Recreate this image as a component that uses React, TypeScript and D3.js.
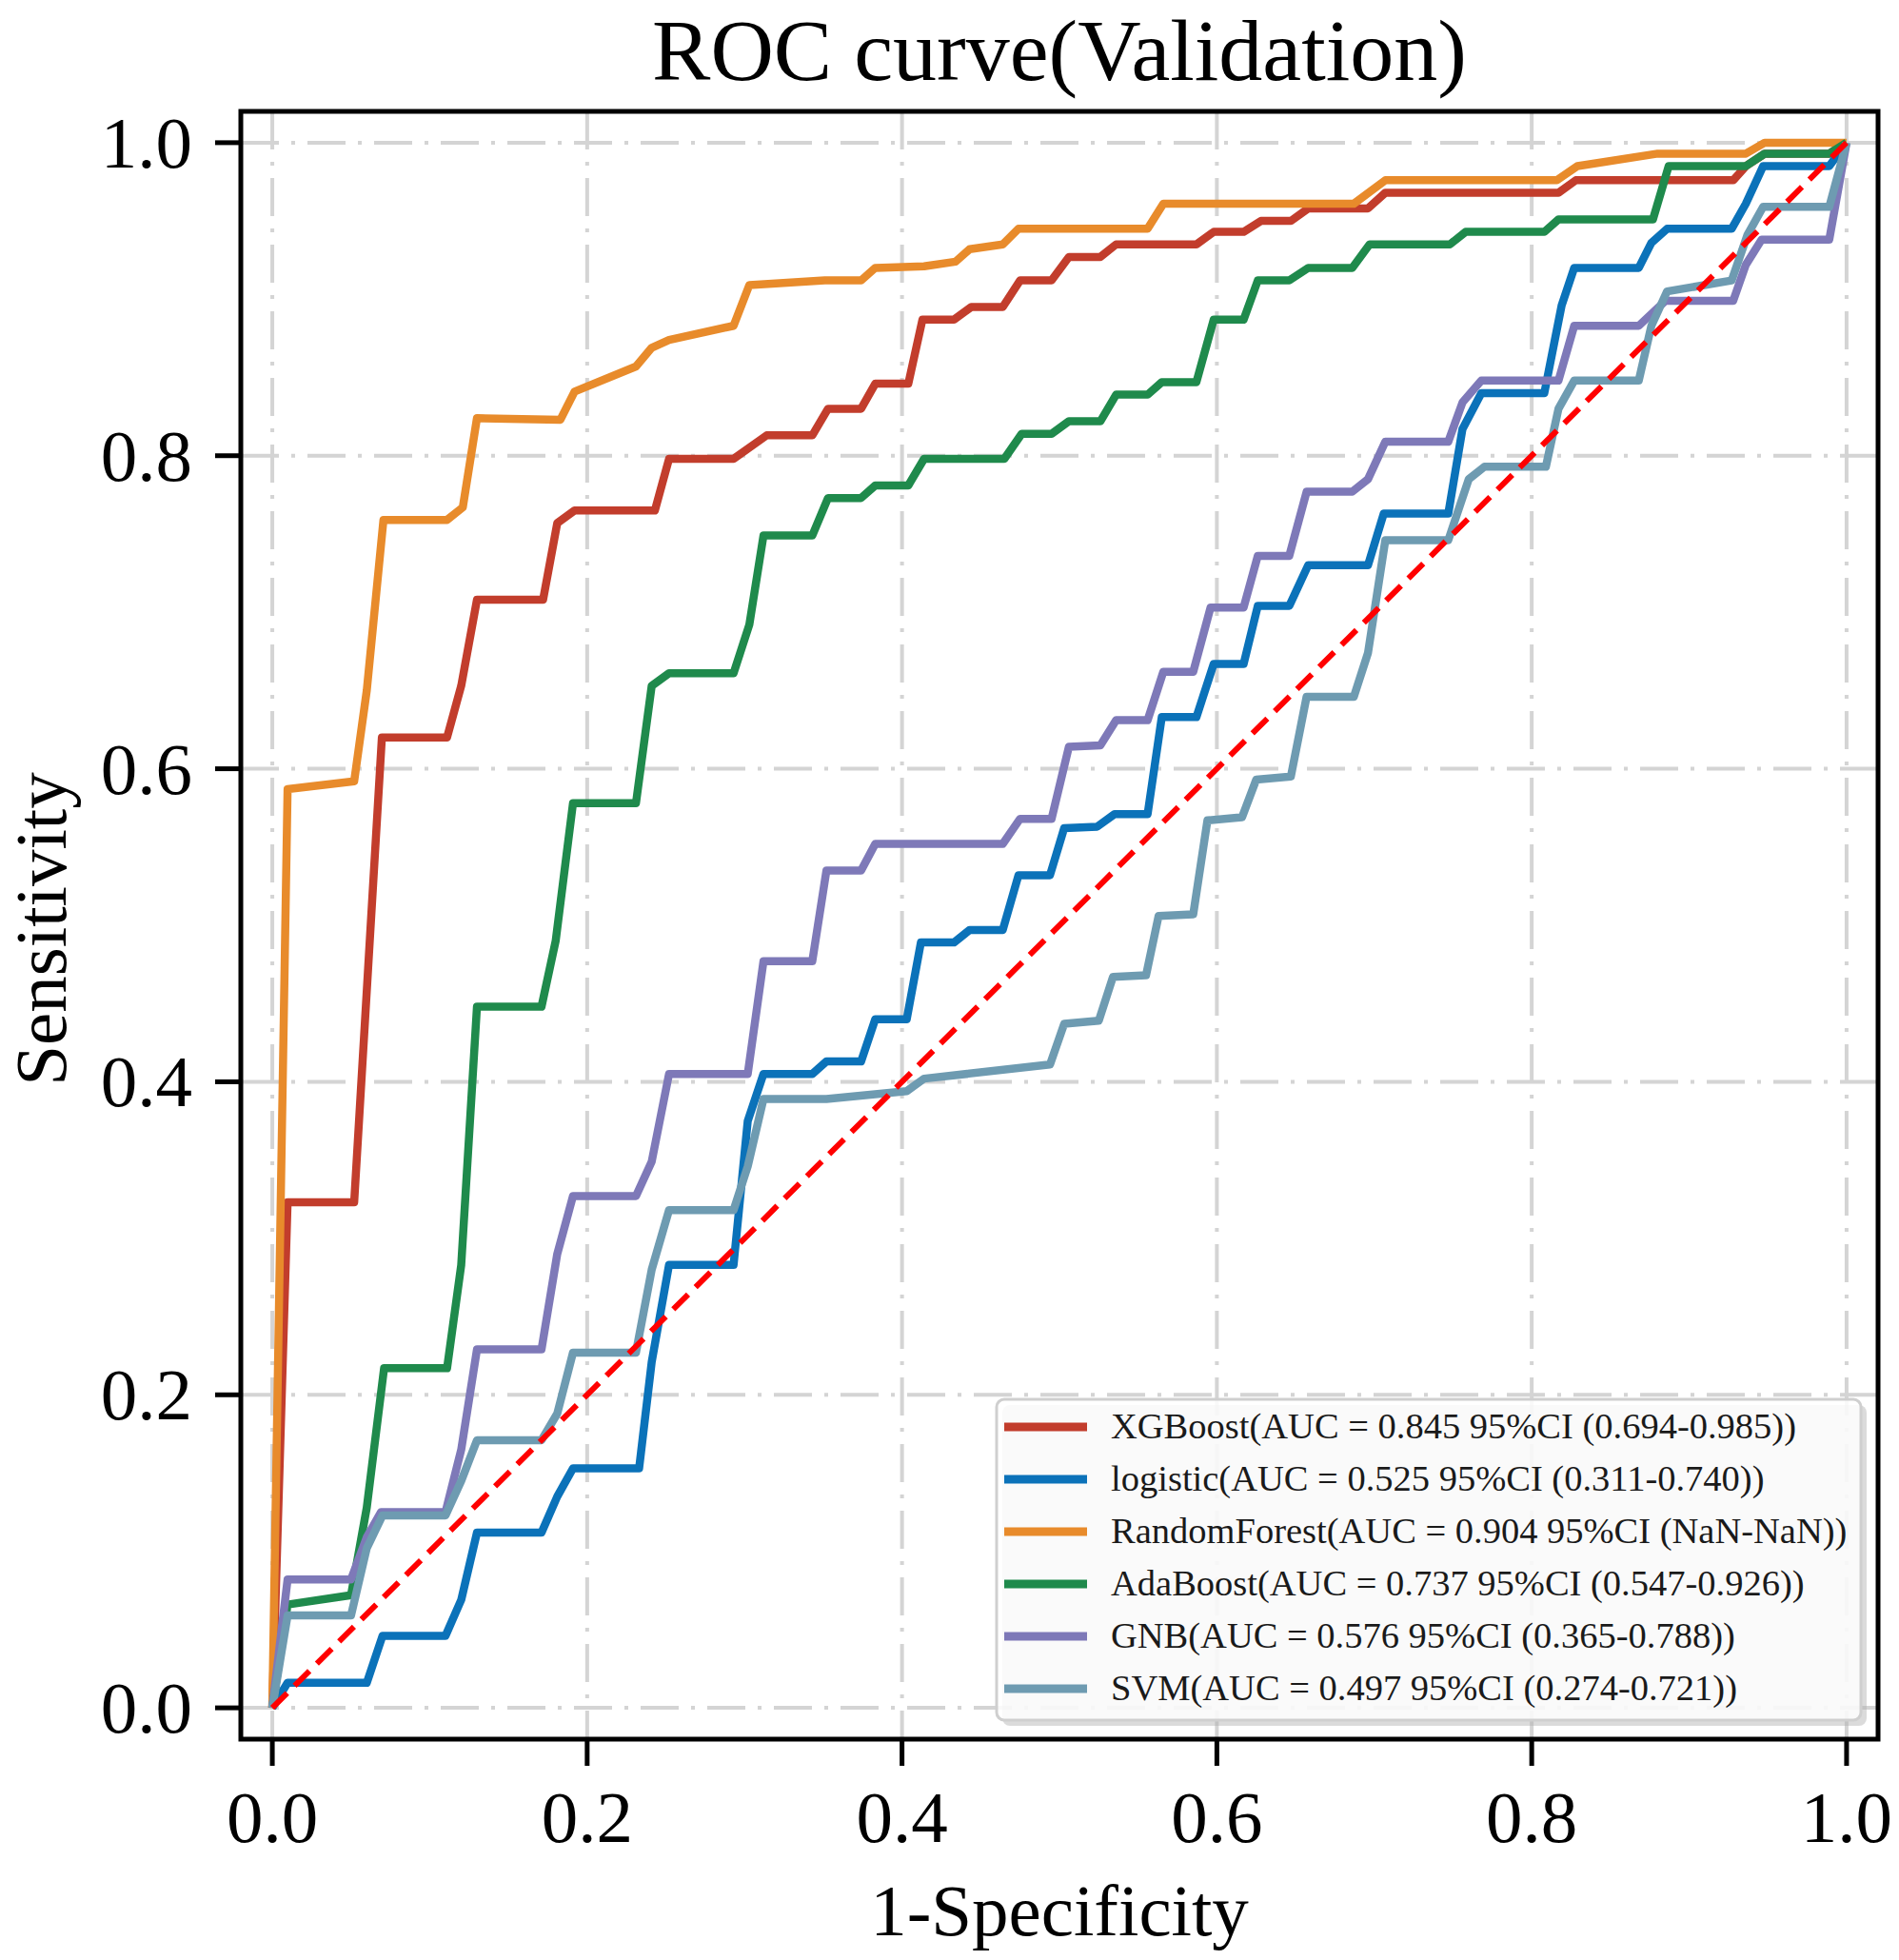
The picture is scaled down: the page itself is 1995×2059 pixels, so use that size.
import React from 'react';
import * as d3 from 'd3';

type Pt = [number, number];

// ROC points (fpr, tpr)
const xgboostRoc: Pt[] = [
  [0, 0], [0.0097, 0.323], [0.052, 0.323], [0.0696, 0.62], [0.111, 0.62], [0.12, 0.653],
  [0.13, 0.708], [0.172, 0.708], [0.181, 0.757], [0.192, 0.765], [0.243, 0.765], [0.252, 0.798],
  [0.293, 0.798], [0.314, 0.813], [0.343, 0.813], [0.353, 0.83], [0.374, 0.83], [0.383, 0.846],
  [0.404, 0.846], [0.413, 0.887], [0.433, 0.887], [0.444, 0.895], [0.464, 0.895], [0.475, 0.912],
  [0.495, 0.912], [0.506, 0.927], [0.526, 0.927], [0.536, 0.935], [0.587, 0.935], [0.598, 0.943],
  [0.617, 0.943], [0.628, 0.95], [0.647, 0.95], [0.658, 0.958], [0.696, 0.958], [0.707, 0.968],
  [0.817, 0.968], [0.828, 0.976], [0.928, 0.976], [0.936, 0.985], [0.948, 0.993], [0.989, 0.993], [1, 1]
];

const logisticRoc: Pt[] = [
  [0, 0], [0.0097, 0.016], [0.06, 0.016], [0.07, 0.046], [0.11, 0.046], [0.12, 0.069], [0.13, 0.112],
  [0.171, 0.112], [0.181, 0.135], [0.191, 0.153], [0.233, 0.153], [0.241, 0.221], [0.252, 0.283],
  [0.293, 0.283], [0.302, 0.375], [0.312, 0.405], [0.343, 0.405], [0.352, 0.413], [0.374, 0.413],
  [0.383, 0.44], [0.403, 0.44], [0.412, 0.489], [0.433, 0.489], [0.443, 0.497], [0.464, 0.497],
  [0.474, 0.532], [0.494, 0.532], [0.503, 0.562], [0.524, 0.563], [0.535, 0.571], [0.556, 0.571],
  [0.565, 0.633], [0.587, 0.633], [0.598, 0.667], [0.617, 0.667], [0.626, 0.704], [0.646, 0.704],
  [0.658, 0.73], [0.696, 0.73], [0.706, 0.763], [0.747, 0.763], [0.756, 0.817], [0.768, 0.84],
  [0.808, 0.84], [0.819, 0.896], [0.827, 0.92], [0.868, 0.92], [0.876, 0.936], [0.886, 0.945],
  [0.927, 0.945], [0.936, 0.961], [0.947, 0.985], [0.989, 0.985], [1, 1]
];

const randomForestRoc: Pt[] = [
  [0, 0], [0.0097, 0.587], [0.052, 0.592], [0.06, 0.65], [0.0706, 0.759], [0.111, 0.759],
  [0.121, 0.767], [0.13, 0.824], [0.183, 0.823], [0.192, 0.841], [0.231, 0.857], [0.241, 0.869],
  [0.252, 0.874], [0.293, 0.883], [0.303, 0.909], [0.351, 0.912], [0.374, 0.912], [0.383, 0.92],
  [0.414, 0.921], [0.434, 0.924], [0.443, 0.932], [0.464, 0.935], [0.474, 0.945], [0.556, 0.945],
  [0.566, 0.961], [0.687, 0.961], [0.707, 0.976], [0.816, 0.976], [0.829, 0.985], [0.88, 0.993],
  [0.936, 0.993], [0.948, 1], [1, 1]
];

const adaBoostRoc: Pt[] = [
  [0, 0], [0.0097, 0.066], [0.05, 0.072], [0.06, 0.128], [0.071, 0.217], [0.111, 0.217], [0.12, 0.283],
  [0.13, 0.448], [0.171, 0.448], [0.18, 0.49], [0.191, 0.578], [0.231, 0.578], [0.241, 0.653],
  [0.252, 0.661], [0.293, 0.661], [0.303, 0.692], [0.312, 0.749], [0.343, 0.749], [0.353, 0.773],
  [0.374, 0.773], [0.383, 0.781], [0.404, 0.781], [0.414, 0.798], [0.465, 0.798], [0.476, 0.814],
  [0.495, 0.814], [0.506, 0.822], [0.526, 0.822], [0.536, 0.839], [0.556, 0.839], [0.565, 0.847],
  [0.587, 0.847], [0.598, 0.887], [0.617, 0.887], [0.626, 0.912], [0.646, 0.912], [0.658, 0.92],
  [0.686, 0.92], [0.697, 0.935], [0.748, 0.935], [0.758, 0.943], [0.808, 0.943], [0.817, 0.951],
  [0.877, 0.951], [0.887, 0.985], [0.936, 0.985], [0.948, 0.993], [0.989, 0.993], [1, 1]
];

const gnbRoc: Pt[] = [
  [0, 0], [0.0097, 0.082], [0.05, 0.082], [0.06, 0.109], [0.069, 0.125], [0.11, 0.125], [0.12, 0.165],
  [0.13, 0.229], [0.171, 0.229], [0.181, 0.29], [0.191, 0.327], [0.231, 0.327], [0.241, 0.349],
  [0.252, 0.405], [0.302, 0.405], [0.312, 0.477], [0.343, 0.477], [0.352, 0.535], [0.374, 0.535],
  [0.383, 0.552], [0.464, 0.552], [0.475, 0.568], [0.495, 0.568], [0.506, 0.614], [0.526, 0.615],
  [0.536, 0.631], [0.556, 0.631], [0.566, 0.662], [0.585, 0.662], [0.596, 0.703], [0.617, 0.703],
  [0.626, 0.736], [0.646, 0.736], [0.657, 0.777], [0.686, 0.777], [0.696, 0.785], [0.707, 0.809],
  [0.747, 0.809], [0.756, 0.834], [0.768, 0.848], [0.817, 0.848], [0.827, 0.883], [0.868, 0.883],
  [0.885, 0.899], [0.928, 0.899], [0.936, 0.922], [0.946, 0.938], [0.989, 0.938], [1, 1]
];

const svmRoc: Pt[] = [
  [0, 0], [0.0097, 0.059], [0.05, 0.059], [0.06, 0.102], [0.07, 0.123], [0.11, 0.123], [0.12, 0.145],
  [0.13, 0.171], [0.171, 0.171], [0.181, 0.188], [0.191, 0.227], [0.231, 0.227], [0.241, 0.28],
  [0.252, 0.318], [0.293, 0.318], [0.302, 0.346], [0.312, 0.389], [0.352, 0.389], [0.403, 0.394],
  [0.414, 0.402], [0.494, 0.411], [0.503, 0.437], [0.525, 0.439], [0.534, 0.467], [0.555, 0.468],
  [0.563, 0.506], [0.585, 0.507], [0.594, 0.567], [0.616, 0.569], [0.625, 0.593], [0.647, 0.595],
  [0.657, 0.646], [0.687, 0.646], [0.696, 0.674], [0.707, 0.746], [0.747, 0.746], [0.76, 0.785],
  [0.77, 0.793], [0.809, 0.793], [0.817, 0.83], [0.827, 0.848], [0.868, 0.848], [0.876, 0.883],
  [0.886, 0.905], [0.927, 0.912], [0.937, 0.941], [0.947, 0.959], [0.989, 0.959], [1, 1]
];

const models = ['XGBoost', 'logistic', 'RandomForest', 'AdaBoost', 'GNB', 'SVM'];
const aucs = ['0.845', '0.525', '0.904', '0.737', '0.576', '0.497'];
const cis = ['0.694-0.985', '0.311-0.740', 'NaN-NaN', '0.547-0.926', '0.365-0.788', '0.274-0.721'];
const curves = [xgboostRoc, logisticRoc, randomForestRoc, adaBoostRoc, gnbRoc, svmRoc];
const ticks = [0, 0.2, 0.4, 0.6, 0.8, 1.0];

const colors = ['#C23D2C', '#0B72B9', '#E88B2B', '#1F8A4C', '#7E79B8', '#6E9BB1'];
const FONT = '"Liberation Serif", "Times New Roman", serif';

const W = 1995;
const H = 2059;
const frame = { left: 253, right: 1973, top: 117, bottom: 1827 };

export default function App() {
  const x = d3.scaleLinear().domain([-0.02, 1.02]).range([frame.left, frame.right]);
  const y = d3.scaleLinear().domain([-0.02, 1.02]).range([frame.bottom, frame.top]);
  const line = d3.line<Pt>().x(d => x(d[0])).y(d => y(d[1]));

  const legend = { left: 1047, top: 1470, right: 1955, bottom: 1807, row0: 1499, step: 55 };

  return (
    <svg
      width={W}
      height={H}
      viewBox={`0 0 ${W} ${H}`}
      style={{ position: 'absolute', left: 0, top: 0, background: '#fff' }}
      fontFamily={FONT}
    >
      <rect width={W} height={H} fill="#fff" />

      {/* grid */}
      <g stroke="#d4d4d4" strokeWidth={4} strokeDasharray="40 13 4 13">
        {ticks.map(t => (
          <line key={'gx' + t} x1={x(t)} x2={x(t)} y1={frame.top} y2={frame.bottom} />
        ))}
        {ticks.map(t => (
          <line key={'gy' + t} x1={frame.left} x2={frame.right} y1={y(t)} y2={y(t)} />
        ))}
      </g>

      {/* ROC curves */}
      <g fill="none" strokeWidth={8.5} strokeLinejoin="round">
        {curves.map((c, i) => (
          <path key={models[i]} d={line(c) || ''} stroke={colors[i]} />
        ))}
      </g>

      {/* chance line */}
      <path
        d={line([[0, 0], [1, 1]]) || ''}
        stroke="#ff0000"
        strokeWidth={6}
        strokeDasharray="22 11"
        fill="none"
      />

      {/* legend */}
      <rect
        x={legend.left + 6}
        y={legend.top + 6}
        width={legend.right - legend.left}
        height={legend.bottom - legend.top}
        rx={8}
        fill="#b0b0b0"
        opacity={0.45}
      />
      <rect
        x={legend.left}
        y={legend.top}
        width={legend.right - legend.left}
        height={legend.bottom - legend.top}
        rx={8}
        fill="#ffffff"
        fillOpacity={0.85}
        stroke="#cfcfcf"
        strokeWidth={3}
      />
      {models.map((m, i) => {
        const cy = legend.row0 + i * legend.step;
        return (
          <g key={'lg' + m}>
            <line x1={1055} x2={1142} y1={cy} y2={cy} stroke={colors[i]} strokeWidth={9} />
            <text x={1167} y={cy + 12} fontSize={38.5} fill="#1a1a1a">
              {`${m}(AUC = ${aucs[i]} 95%CI (${cis[i]}))`}
            </text>
          </g>
        );
      })}

      {/* frame */}
      <rect
        x={frame.left}
        y={frame.top}
        width={frame.right - frame.left}
        height={frame.bottom - frame.top}
        fill="none"
        stroke="#000"
        strokeWidth={5}
      />

      {/* y axis ticks */}
      {ticks.map(t => (
        <g key={'yt' + t}>
          <line x1={frame.left - 27} x2={frame.left} y1={y(t)} y2={y(t)} stroke="#000" strokeWidth={5} />
          <text x={202} y={y(t) + 26} fontSize={77} textAnchor="end" fill="#000">
            {t.toFixed(1)}
          </text>
        </g>
      ))}

      {/* x axis ticks */}
      {ticks.map(t => (
        <g key={'xt' + t}>
          <line x1={x(t)} x2={x(t)} y1={frame.bottom} y2={frame.bottom + 28} stroke="#000" strokeWidth={5} />
          <text x={x(t)} y={1935} fontSize={77} textAnchor="middle" fill="#000">
            {t.toFixed(1)}
          </text>
        </g>
      ))}

      {/* labels */}
      <text x={(frame.left + frame.right) / 2} y={2033} fontSize={77} textAnchor="middle" fill="#000">
        1-Specificity
      </text>
      <text
        transform={`translate(69, ${(y(0) + y(1)) / 2 + 4}) rotate(-90)`}
        fontSize={77}
        textAnchor="middle"
        fill="#000"
      >
        Sensitivity
      </text>
      <text x={(frame.left + frame.right) / 2} y={84} fontSize={92} textAnchor="middle" fill="#000">
        ROC curve(Validation)
      </text>
    </svg>
  );
}
